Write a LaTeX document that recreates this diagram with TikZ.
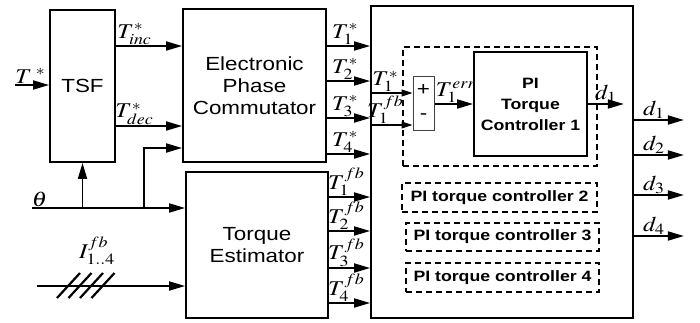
\documentclass[tikz,border=0pt]{standalone}
\usepackage{mathptmx}
\usepackage{fontspec}
\setsansfont{Liberation Sans}[FakeStretch=1.18]
\usetikzlibrary{arrows.meta,positioning,calc}

\begin{document}
\begin{tikzpicture}[x=1pt, y=-1pt,
  every node/.style={font=\sffamily\fontsize{19}{22}\selectfont},
  blk/.style={draw, line width=1.8pt, inner sep=0pt, align=center},
  dbox/.style={draw, line width=1.2pt, dash pattern=on 6pt off 4pt,
               inner sep=0pt, align=center},
  pibox/.style={dbox, font=\sffamily\bfseries\fontsize{15}{21}\selectfont},
  lbl/.style={font=\fontsize{21}{22}\selectfont, inner sep=0.5pt, xscale=1.15},
  arrow/.style={-{Triangle[length=16pt,width=9pt]}, line width=1.8pt},
  sarrow/.style={-{Triangle[length=11pt,width=7pt]}, line width=1.1pt},
]
\useasboundingbox (0,0) rectangle (700,322);

%% Main blocks
\node[blk, minimum width=65, minimum height=152] (tsf) at (82.5,86) {TSF};
\node[blk, minimum width=143, minimum height=153] (epc) at (254.5,85.5)
  {Electronic\\Phase\\Commutator};
\node[blk, minimum width=142, minimum height=146] (te) at (257,245)
  {Torque\\Estimator};
\node[blk, minimum width=262, minimum height=312] (ctrl) at (502,162) {};

%% Controller 1 and the others
\node[dbox, minimum width=194, minimum height=119] (dash1) at (500,106.5) {};
\node[blk, minimum width=113, minimum height=104,
      font=\sffamily\bfseries\fontsize{15}{21}\selectfont] (pi) at (530.5,104)
  {PI\\Torque\\Controller 1};
\node[draw=black!75, line width=1pt, minimum width=21, minimum height=54,
      inner sep=0pt] (sum) at (423.5,103.5) {};
\node (plus) at (423.5,90) {+};
\node (minus) at (423.5,117) {-};
\node[pibox, minimum width=195, minimum height=29] (pic2) at (499.5,197.5)
  {PI torque controller 2};
\node[pibox, minimum width=193, minimum height=28] (pic3) at (502.5,237)
  {PI torque controller 3};
\node[pibox, minimum width=193, minimum height=29] (pic4) at (502.5,277.5)
  {PI torque controller 4};

%% Inputs
\coordinate (tin) at (15,85);
\coordinate (th) at (32,208);
\coordinate (br) at (144,208);
\coordinate (iin) at (37,286);
\node[lbl] (ilbl) at (97,251) {$I^{fb}_{1..4}$};

\draw[arrow] (tin) -- (tsf.west |- tin)
  node[lbl, above, pos=0.45] {$T^{\;*}$};
\draw[arrow] (th) -- (te.west |- th)
  node[lbl, above, pos=0.05] {$\theta$};
\draw[arrow] (tsf.south |- th) -- (tsf.south);
\draw[arrow] (br) |- (epc.west |- 0,148);
\draw[arrow] (iin) -- (te.west |- iin);
\foreach \x in {57,68.5,80,91.5}
  \draw[line width=2.2pt] (\x,298) -- ++(23,-25);

%% TSF -> commutator
\draw[arrow] (tsf.east |- 0,46) -- (epc.west |- 0,46)
  node[lbl, above, pos=0.28] {$T^{*}_{inc}$};
\draw[arrow] (tsf.east |- 0,126) -- (epc.west |- 0,126)
  node[lbl, above, pos=0.28] {$T^{*}_{dec}$};

%% Commutator / estimator -> controllers
\foreach \y/\k in {46/1,81/2,118/3,154/4}
  \draw[arrow] (epc.east |- 0,\y) -- (ctrl.west |- 0,\y)
    node[lbl, above, pos=0.42] {$T_{\k}^{*}$};
\foreach \y/\k in {197/1,231/2,268/3,303/4}
  \draw[arrow] (te.east |- 0,\y) -- (ctrl.west |- 0,\y)
    node[lbl, above, pos=0.42] {$T_{\k}^{fb}$};

%% Inside controller 1
\draw[sarrow] (ctrl.west |- 0,93) -- (sum.west |- 0,93)
  node[lbl, above, pos=0.36] {$T_1^{*}$};
\draw[sarrow] (ctrl.west |- 0,125) -- (sum.west |- 0,125)
  node[lbl, above, pos=0.36] {$T_1^{fb}$};
\draw[arrow] (sum.east |- pi) -- (pi.west)
  node[lbl, above, pos=0.55] {$T_1^{err}$};
\draw[arrow] (pi.east) -- ++(36,0)
  node[lbl, above, pos=0.5] {$d_1$};

%% Outputs
\foreach \y/\k in {120/1,155/2,195/3,236/4}
  \draw[arrow] (ctrl.east |- 0,\y) -- ++(50,0)
    node[lbl, above, pos=0.4] {$d_{\k}$};

\end{tikzpicture}
\end{document}
